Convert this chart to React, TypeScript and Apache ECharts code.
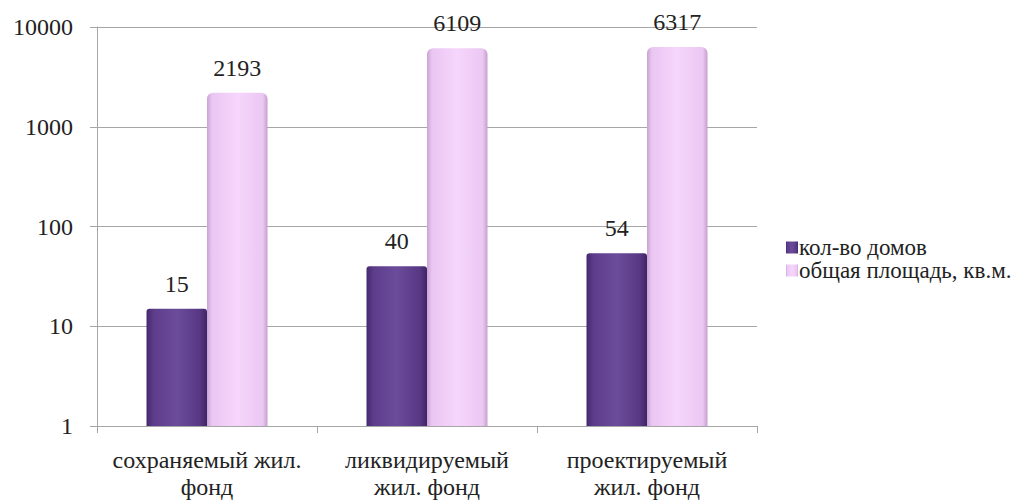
import React, { useEffect, useRef } from "react";
import * as echarts from "echarts";

const categories = ["сохраняемый жил.\nфонд", "ликвидируемый\nжил. фонд", "проектируемый\nжил. фонд"];
const houses = [15, 40, 54];
const area = [2193, 6109, 6317];
const seriesNames = ["кол-во домов", "общая площадь, кв.м."];

const FONT = "Liberation Serif";

export default function App() {
  const ref = useRef<HTMLDivElement>(null);
  useEffect(() => {
    if (!ref.current) return;
    const chart = echarts.init(ref.current, null, { renderer: "svg" });
    const purple = new echarts.graphic.LinearGradient(0, 0, 1, 0, [
      { offset: 0, color: "#45296e" },
      { offset: 0.12, color: "#5d3d8c" },
      { offset: 0.5, color: "#6b4c9a" },
      { offset: 0.88, color: "#583885" },
      { offset: 1, color: "#3f2565" },
    ]);
    const pink = new echarts.graphic.LinearGradient(0, 0, 1, 0, [
      { offset: 0, color: "#c9a3d2" },
      { offset: 0.08, color: "#eac6f2" },
      { offset: 0.5, color: "#f6d6fc" },
      { offset: 0.92, color: "#ebc7f3" },
      { offset: 1, color: "#c6a0cf" },
    ]);
    chart.setOption({
      animation: false,
      backgroundColor: "#ffffff",
      textStyle: { fontFamily: FONT },
      grid: { left: 97, right: 265, top: 27, bottom: 78, containLabel: false },
      legend: {
        orient: "vertical",
        left: 781,
        top: 231,
        itemWidth: 12,
        itemHeight: 12,
        itemGap: 0,
        icon: "rect",
        data: seriesNames,
        textStyle: {
          fontFamily: FONT,
          fontSize: 23,
          lineHeight: 22,
          color: "#222",
          padding: [0, 0, 0, -4],
        },
      },
      xAxis: {
        type: "category",
        data: categories,
        axisLine: { lineStyle: { color: "#a6a6a6", width: 1 } },
        axisTick: { show: true, length: 7, lineStyle: { color: "#a6a6a6" } },
        axisLabel: {
          fontFamily: FONT,
          fontSize: 24,
          color: "#222",
          lineHeight: 27,
          margin: 20,
          interval: 0,
        },
      },
      yAxis: {
        type: "log",
        logBase: 10,
        min: 1,
        max: 10000,
        axisLine: { show: true, lineStyle: { color: "#a6a6a6" } },
        axisTick: { show: true, length: 7, lineStyle: { color: "#a6a6a6" } },
        splitLine: { show: true, lineStyle: { color: "#a6a6a6", width: 1 } },
        axisLabel: {
          fontFamily: FONT,
          fontSize: 24,
          color: "#222",
          margin: 24,
          formatter: (v: number) => String(Math.round(v)),
        },
      },
      series: [
        {
          name: seriesNames[0],
          type: "bar",
          data: houses,
          barGap: "0%",
          barCategoryGap: "45%",
          itemStyle: { color: purple, borderRadius: [3, 3, 0, 0] },
          label: {
            show: true,
            position: "top",
            distance: 13,
            fontFamily: FONT,
            fontSize: 24,
            color: "#222",
          },
        },
        {
          name: seriesNames[1],
          type: "bar",
          data: area,
          barGap: "0%",
          barCategoryGap: "45%",
          itemStyle: { color: pink, borderRadius: [6, 6, 0, 0] },
          label: {
            show: true,
            position: "top",
            distance: 13,
            fontFamily: FONT,
            fontSize: 24,
            color: "#222",
          },
        },
      ],
    });
    return () => chart.dispose();
  }, []);
  return (
    <div
      ref={ref}
      style={{ position: "fixed", left: 0, top: 0, width: 1022, height: 504, background: "#fff" }}
    />
  );
}
